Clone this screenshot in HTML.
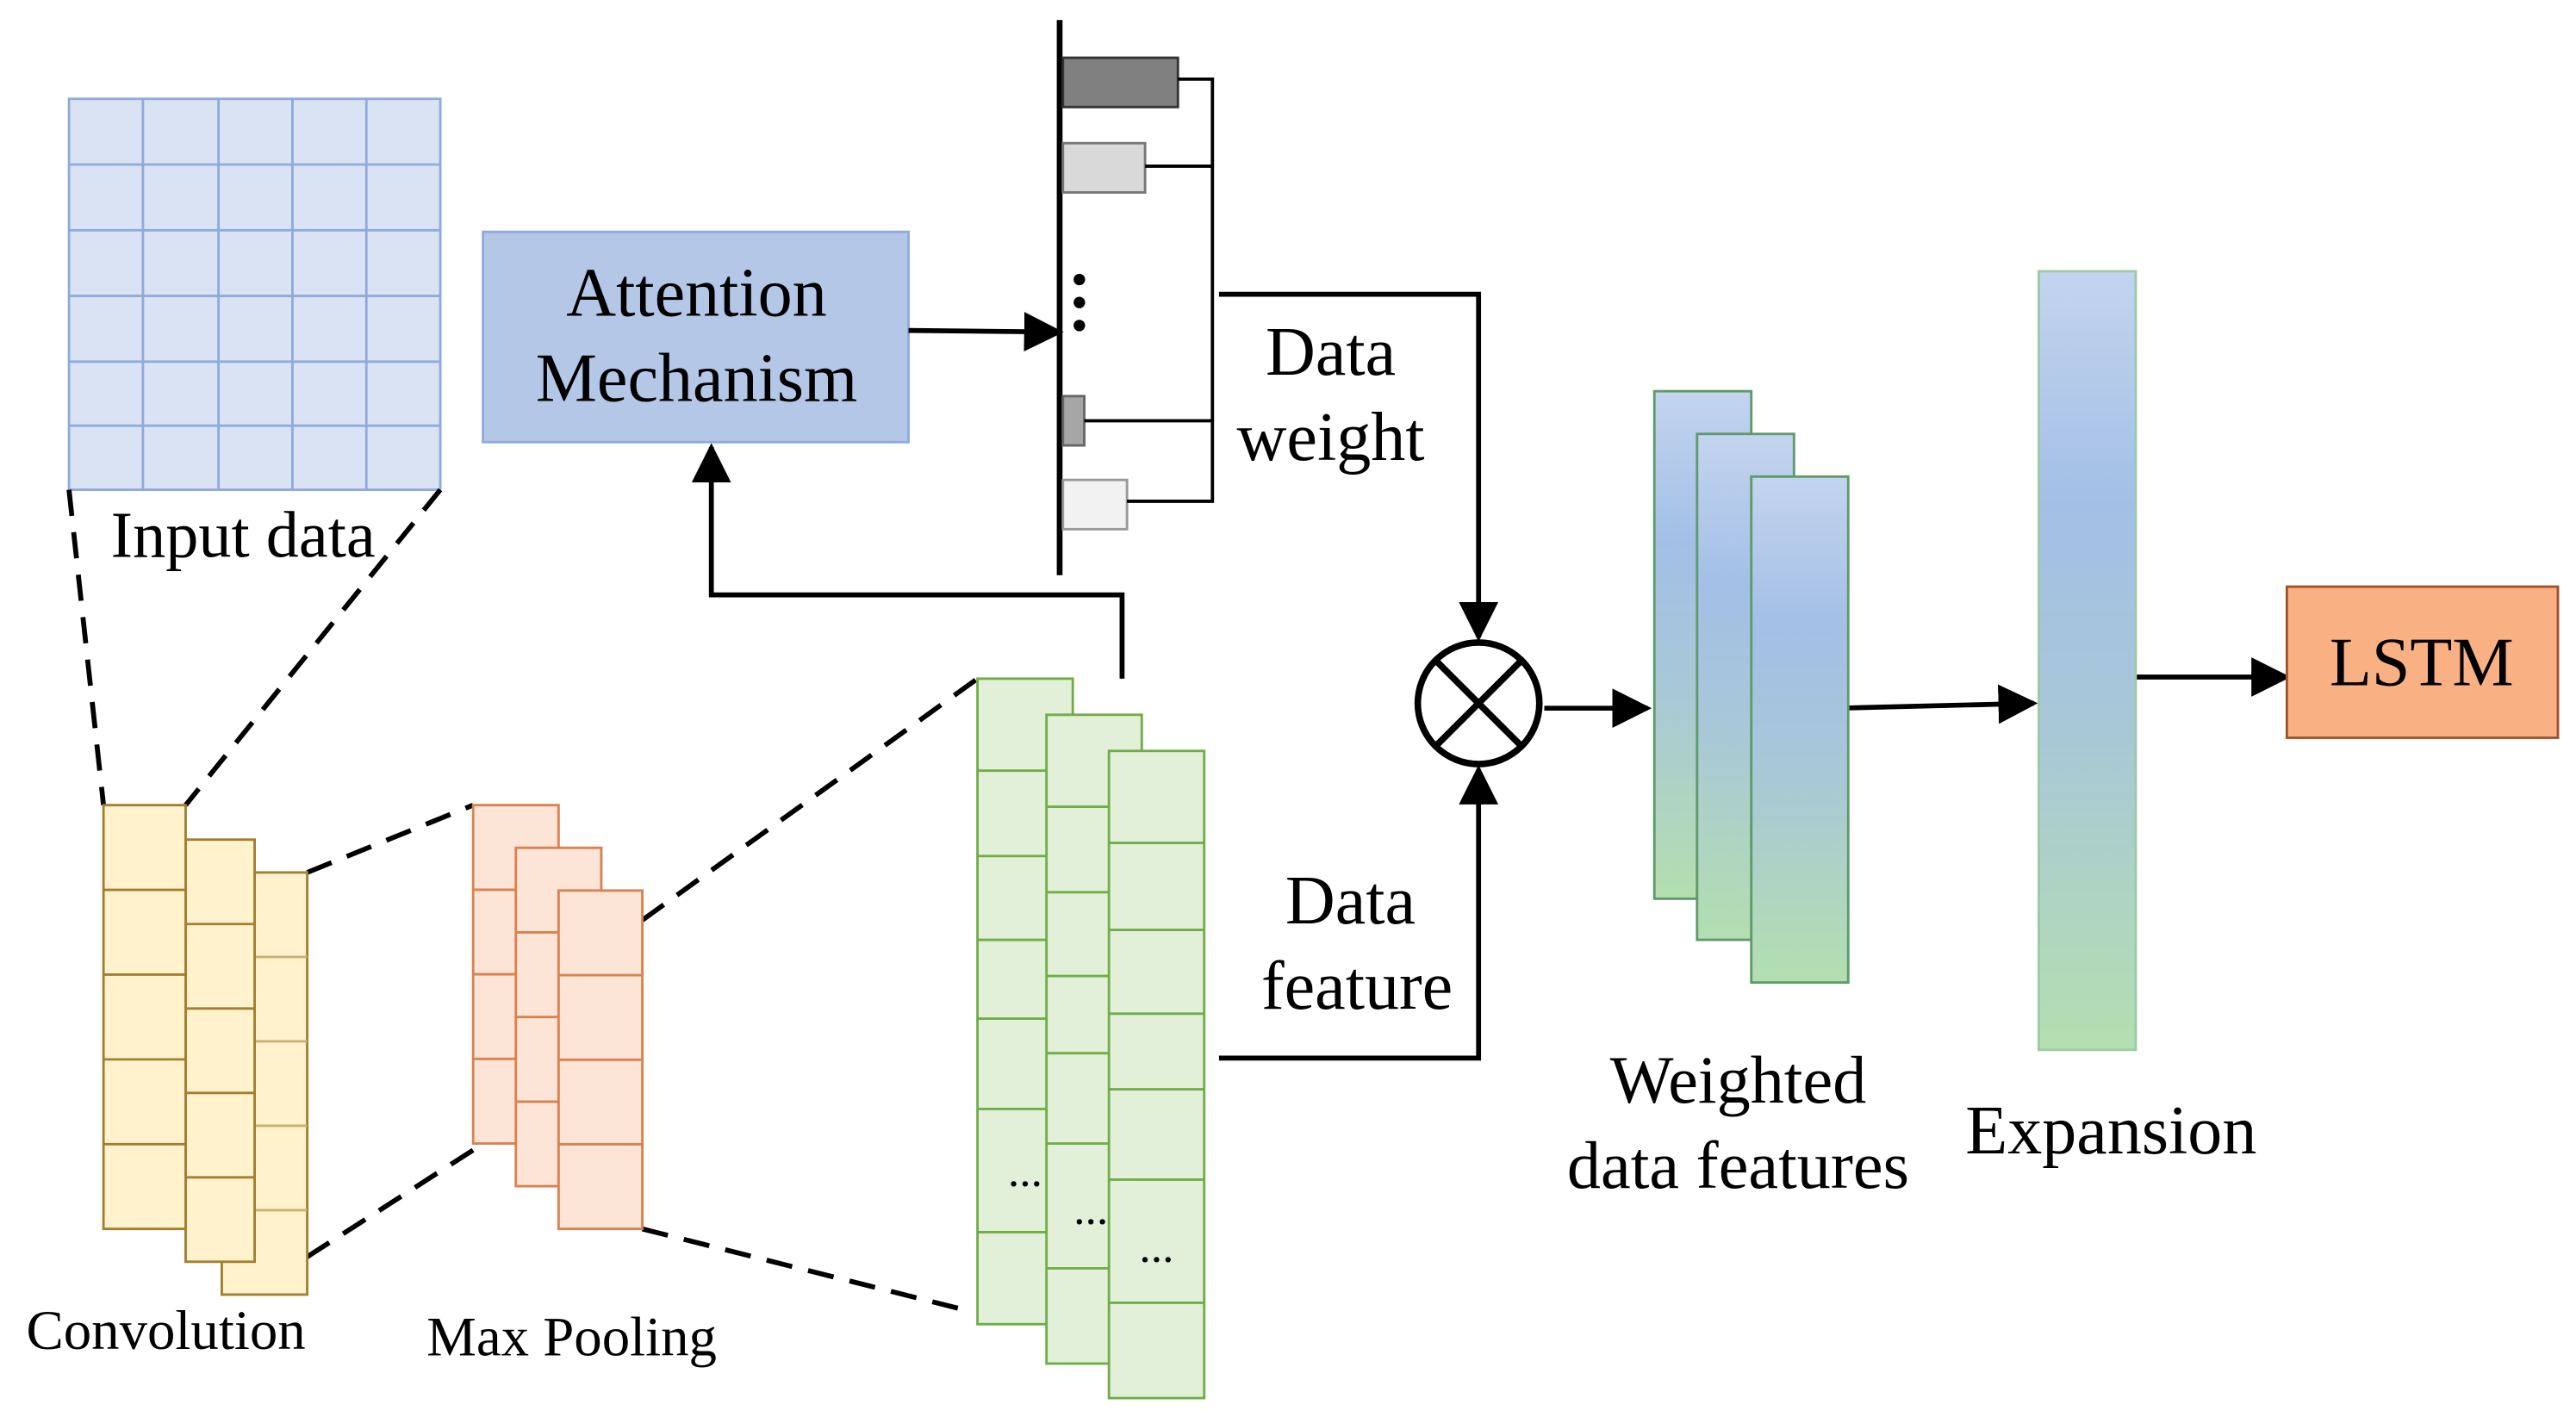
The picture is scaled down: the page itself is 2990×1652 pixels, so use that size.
<!DOCTYPE html>
<html><head><meta charset="utf-8"><style>html,body{margin:0;padding:0;background:#fff}svg{display:block}</style></head>
<body>
<svg width="2990" height="1652" viewBox="0 0 1568 866" xmlns="http://www.w3.org/2000/svg" font-family="'Liberation Serif', serif">
<defs>
<linearGradient id="g1" x1="0" y1="0" x2="0" y2="1">
<stop offset="0" stop-color="#c3d4ee"/><stop offset="0.3" stop-color="#a3bfe6"/><stop offset="0.6" stop-color="#a9c8d6"/><stop offset="1" stop-color="#b3dfb0"/>
</linearGradient>
<marker id="ah" viewBox="0 0 10 10" refX="9" refY="5" markerWidth="8" markerHeight="8" orient="auto" markerUnits="strokeWidth"><path d="M0,0 L10,5 L0,10 z" fill="#000"/></marker>
</defs>
<g stroke="#8faadc" stroke-width="1.5" fill="#dae3f3">
<rect x="42" y="60" width="226" height="238"/>
<path d="M87,60V298M133,60V298M178,60V298M223,60V298M42,100H268M42,140H268M42,180H268M42,220H268M42,259H268" fill="none"/>
</g>
<text x="148" y="339" font-size="40" text-anchor="middle">Input data</text>
<g stroke="#000" stroke-width="3" stroke-dasharray="16,10" fill="none">
<line x1="42" y1="298" x2="63" y2="490"/><line x1="268" y1="298" x2="113" y2="490"/>
<line x1="187" y1="531" x2="288" y2="490"/><line x1="187" y1="765" x2="288" y2="700"/>
<line x1="391" y1="560" x2="595" y2="413"/><line x1="391" y1="748" x2="590" y2="798"/>
</g>
<g stroke="#a08030" stroke-width="1.5" fill="#fff2cc">
<rect x="135" y="531" width="52" height="257"/><path d="M135,582.4H187M135,633.8H187M135,685.2H187M135,736.6H187" stroke="#c8b070"/>
<rect x="113" y="511" width="42" height="257"/><path d="M113,562.4H155M113,613.8H155M113,665.2H155M113,716.6H155"/>
<rect x="63" y="490" width="50" height="258"/><path d="M63,541.6H113M63,593.2H113M63,644.8H113M63,696.4H113"/>
</g>
<text x="101" y="821" font-size="34" text-anchor="middle">Convolution</text>
<g stroke="#d9824f" stroke-width="1.5" fill="#fce4d6">
<rect x="288" y="490" width="52" height="206"/><path d="M288,541.5H340M288,593H340M288,644.5H340"/>
<rect x="314" y="516" width="52" height="206"/><path d="M314,567.5H366M314,619H366M314,670.5H366"/>
<rect x="340" y="542" width="51" height="206"/><path d="M340,593.5H391M340,645H391M340,696.5H391"/>
</g>
<text x="348" y="825" font-size="34" text-anchor="middle">Max Pooling</text>
<g stroke="#70ad47" stroke-width="1.5" fill="#e2f0d9">
<rect x="595" y="413" width="58" height="393"/><path d="M595,469H653M595,521H653M595,572H653M595,620H653M595,675H653M595,750H653"/>
<rect x="637" y="435" width="58" height="395"/><path d="M637,491H695M637,543H695M637,594H695M637,641H695M637,696H695M637,772H695"/>
<rect x="675" y="457" width="58" height="394"/><path d="M675,513H733M675,566H733M675,617H733M675,663H733M675,718H733M675,793H733"/>
</g>
<g font-size="28" text-anchor="middle"><text x="624" y="722">...</text><text x="664" y="745">...</text><text x="704" y="768">...</text></g>
<rect x="294" y="141" width="259" height="128" fill="#b4c7e7" stroke="#8faadc" stroke-width="1.5"/>
<text x="424" y="192" font-size="42" text-anchor="middle">Attention</text>
<text x="424" y="244" font-size="42" text-anchor="middle">Mechanism</text>
<g stroke="#000" stroke-width="3" fill="none">
<line x1="553" y1="201" x2="645" y2="202" marker-end="url(#ah)"/>
<polyline points="683,413 683,362 433,362 433,272" marker-end="url(#ah)"/>
<polyline points="742,179 900,179 900,388" marker-end="url(#ah)"/>
<polyline points="742,644 900,644 900,468" marker-end="url(#ah)"/>
<line x1="940" y1="431" x2="1003" y2="431" marker-end="url(#ah)"/>
<line x1="1118" y1="431" x2="1238" y2="428" marker-end="url(#ah)"/>
<line x1="1300" y1="412" x2="1392" y2="412" marker-end="url(#ah)"/>
<line x1="645" y1="12" x2="645" y2="350" stroke-width="3.5"/>
</g>
<g stroke="#333" stroke-width="1.5">
<rect x="647" y="35" width="70" height="30" fill="#808080"/>
<rect x="647" y="87" width="50" height="30" fill="#d9d9d9" stroke="#777"/>
<rect x="647" y="241" width="13" height="30" fill="#a6a6a6" stroke="#666"/>
<rect x="647" y="292" width="39" height="30" fill="#f2f2f2" stroke="#999"/>
</g>
<path d="M717,48H738V305H686M697,101H738M660,256H738" fill="none" stroke="#000" stroke-width="2"/>
<g fill="#000"><circle cx="657" cy="170" r="3.5"/><circle cx="657" cy="184" r="3.5"/><circle cx="657" cy="198" r="3.5"/></g>
<text x="810" y="228" font-size="42" text-anchor="middle">Data</text>
<text x="810" y="280" font-size="42" text-anchor="middle">weight</text>
<text x="822" y="562" font-size="42" text-anchor="middle">Data</text>
<text x="826" y="614" font-size="42" text-anchor="middle">feature</text>
<circle cx="900" cy="428" r="37" fill="#fff" stroke="#000" stroke-width="4"/>
<path d="M874,402L926,454M926,402L874,454" stroke="#000" stroke-width="4"/>
<g stroke="#5e9a6a" stroke-width="1.5" fill="url(#g1)">
<rect x="1007" y="238" width="59" height="309"/>
<rect x="1033" y="264" width="59" height="308"/>
<rect x="1066" y="290" width="59" height="308"/>
<rect x="1241" y="165" width="59" height="474" stroke="#9cc9a8"/>
</g>
<text x="1058" y="671" font-size="41" text-anchor="middle">Weighted</text>
<text x="1058" y="723" font-size="41" text-anchor="middle">data features</text>
<text x="1285" y="702" font-size="42" text-anchor="middle">Expansion</text>
<rect x="1392" y="357" width="165" height="92" fill="#f9b184" stroke="#a0522d" stroke-width="1.5"/>
<text x="1474" y="417" font-size="42" text-anchor="middle">LSTM</text>
</svg>
</body></html>
